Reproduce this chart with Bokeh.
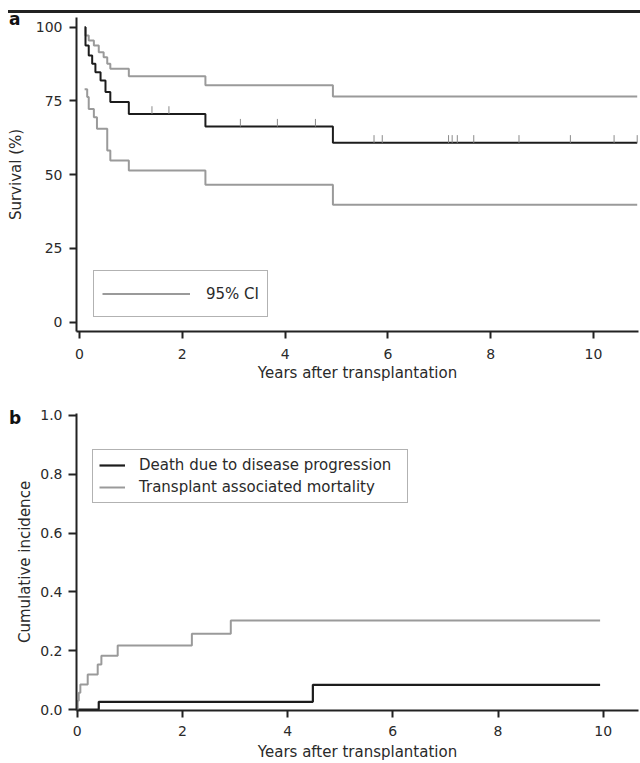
from bokeh.plotting import figure
from bokeh.models import Range1d, Legend, LegendItem, Div, FixedTicker, NumeralTickFormatter
from bokeh.layouts import column
from bokeh.embed import file_html
from bokeh.resources import INLINE
import numpy as np

# ---------------- data: panel a (Kaplan-Meier survival, %) ----------------
km_years = [0.10, 0.117, 0.18, 0.247, 0.31, 0.41, 0.506, 0.60, 0.96, 2.45, 4.93]
km_survival = [100, 93.8, 90.4, 87.6, 84.7, 81.9, 78.0, 74.6, 70.6, 66.3, 60.8]
upper_years = [0.10, 0.117, 0.18, 0.28, 0.375, 0.47, 0.54, 0.60, 0.96, 2.45, 4.93]
upper_survival = [100, 97.2, 95.5, 93.8, 91.5, 89.8, 87.6, 85.9, 83.4, 80.3, 76.5]
lower_years = [0.10, 0.15, 0.18, 0.28, 0.34, 0.54, 0.60, 0.96, 2.45, 4.93]
lower_survival = [79.0, 76.3, 72.3, 69.5, 65.6, 58.2, 54.8, 51.4, 46.6, 39.8]
followup_end_a = 10.85
censor_years = [1.41, 1.74, 3.13, 3.85, 4.59, 5.73, 5.89, 7.18, 7.25, 7.35, 7.67, 8.55, 9.55, 10.40, 10.85]
ticks_a_x = [0, 2, 4, 6, 8, 10]
ticks_a_y = [0, 25, 50, 75, 100]

# ---------------- data: panel b (cumulative incidence) ----------------
trm_years = [0.0, 0.01, 0.03, 0.06, 0.20, 0.39, 0.46, 0.77, 2.18, 2.92]
trm_incidence = [0.0, 0.03, 0.057, 0.085, 0.119, 0.153, 0.183, 0.218, 0.258, 0.303]
prog_years = [0.0, 0.41, 4.48]
prog_incidence = [0.0, 0.026, 0.084]
followup_end_b = 9.94
ticks_b_x = [0, 2, 4, 6, 8, 10]
ticks_b_y = [0.0, 0.2, 0.4, 0.6, 0.8, 1.0]

FONT = "DejaVu Sans"
TXT = "#2a2a2a"
AXC = "#222222"
BLACK = "#1c1c1c"
GREY = "#9a9a9a"
W = 640


def style_axes(p, tick_out_x, tick_std_x, lab_std_x, tick_out_y, tick_std_y, lab_std_y):
    for ax, to, ts, ls in ((p.xaxis[0], tick_out_x, tick_std_x, lab_std_x),
                           (p.yaxis[0], tick_out_y, tick_std_y, lab_std_y)):
        ax.axis_line_color = AXC
        ax.axis_line_width = 2
        ax.major_tick_line_color = AXC
        ax.major_tick_line_width = 2
        ax.major_tick_out = to
        ax.major_tick_in = 0
        ax.minor_tick_line_color = None
        ax.major_label_standoff = ts
        ax.axis_label_standoff = ls
        ax.major_label_text_font = FONT
        ax.major_label_text_font_size = "14px"
        ax.major_label_text_color = TXT
        ax.axis_label_text_font = FONT
        ax.axis_label_text_font_size = "15px"
        ax.axis_label_text_font_style = "normal"
        ax.axis_label_text_color = TXT
    p.xgrid.grid_line_color = None
    p.ygrid.grid_line_color = None
    p.outline_line_color = None
    p.background_fill_color = "white"
    p.border_fill_color = None


def steps(xs, ys, end):
    return list(xs) + [end], list(ys) + [ys[-1]]

# ---------------- panel a ----------------
pa = figure(width=W, height=382, output_backend="svg", toolbar_location=None,
            x_range=Range1d(-0.058, 10.875), y_range=Range1d(-3.2, 103.3),
            min_border_left=76, min_border_right=2, min_border_top=4, min_border_bottom=64)
pa.xaxis.axis_label = "Years after transplantation"
pa.yaxis.axis_label = "Survival (%)"
pa.xaxis.ticker = FixedTicker(ticks=ticks_a_x)
pa.yaxis.ticker = FixedTicker(ticks=ticks_a_y)
style_axes(pa, 7, 10, 2, 7, 7, 8)

x, y = steps(upper_years, upper_survival, followup_end_a)
r_up = pa.step(x, y, mode="after", line_color=GREY, line_width=2)
x, y = steps(lower_years, lower_survival, followup_end_a)
pa.step(x, y, mode="after", line_color=GREY, line_width=2)
x, y = steps(km_years, km_survival, followup_end_a)
pa.step(x, y, mode="after", line_color=BLACK, line_width=2)

idx = np.searchsorted(np.array(km_years), np.array(censor_years), side="right") - 1
levels = np.array(km_survival)[idx]
pa.segment(x0=censor_years, y0=levels, x1=censor_years, y1=levels + 2.6,
           line_color="#8a8a8a", line_width=1)

leg_a = Legend(items=[LegendItem(label="95% CI", renderers=[r_up])],
               location=(17, 14), glyph_width=88, glyph_height=29, label_height=29,
               label_standoff=16, padding=8, spacing=0,
               label_text_font=FONT, label_text_font_size="15px", label_text_color=TXT,
               border_line_color="#666666", border_line_width=1.5,
               background_fill_alpha=1.0)
pa.add_layout(leg_a)

# ---------------- panel b ----------------
pb = figure(width=W, height=368, output_backend="svg", toolbar_location=None,
            x_range=Range1d(-0.013, 10.67), y_range=Range1d(-0.0034, 1.0068),
            min_border_left=76, min_border_right=0, min_border_top=18, min_border_bottom=53)
pb.xaxis.axis_label = "Years after transplantation"
pb.yaxis.axis_label = "Cumulative incidence"
pb.xaxis.ticker = FixedTicker(ticks=ticks_b_x)
pb.yaxis.ticker = FixedTicker(ticks=ticks_b_y)
pb.yaxis.formatter = NumeralTickFormatter(format="0.0")
style_axes(pb, 7, 8, 4, 8, 6, 3)

x, y = steps(prog_years, prog_incidence, followup_end_b)
r_prog = pb.step(x, y, mode="after", line_color=BLACK, line_width=2.2)
x, y = steps(trm_years, trm_incidence, followup_end_b)
r_trm = pb.step(x, y, mode="after", line_color=GREY, line_width=2)

leg_b = Legend(items=[LegendItem(label="Death due to disease progression", renderers=[r_prog]),
                      LegendItem(label="Transplant associated mortality", renderers=[r_trm])],
               location=(16, 207), glyph_width=26, glyph_height=18, label_height=18,
               label_width=262, label_standoff=14, padding=6, spacing=4,
               label_text_font=FONT, label_text_font_size="15px", label_text_color=TXT,
               border_line_color="#666666", border_line_width=1.5,
               background_fill_alpha=1.0)
pb.add_layout(leg_b)

# top rule plus the panel letters (real text, positioned over the figures)
letter_style = ("position:relative; height:0; overflow:visible; z-index:10; "
                "font-family:'DejaVu Sans'; font-weight:bold; font-size:17px; "
                "line-height:17px; color:#111111; margin:0; padding:0;")
rule = Div(text=(f'<div style="{letter_style} left:1px; top:1px;">a</div>'
                 f'<div style="{letter_style} left:1px; top:400px;">b</div>'),
           width=632, height=3, margin=(10, 0, 0, 8),
           styles={"background-color": "#222222", "overflow": "visible", "z-index": "10"})

layout = column(rule, pa, pb, spacing=0)
open("out.html", "w").write(file_html(layout, INLINE))
